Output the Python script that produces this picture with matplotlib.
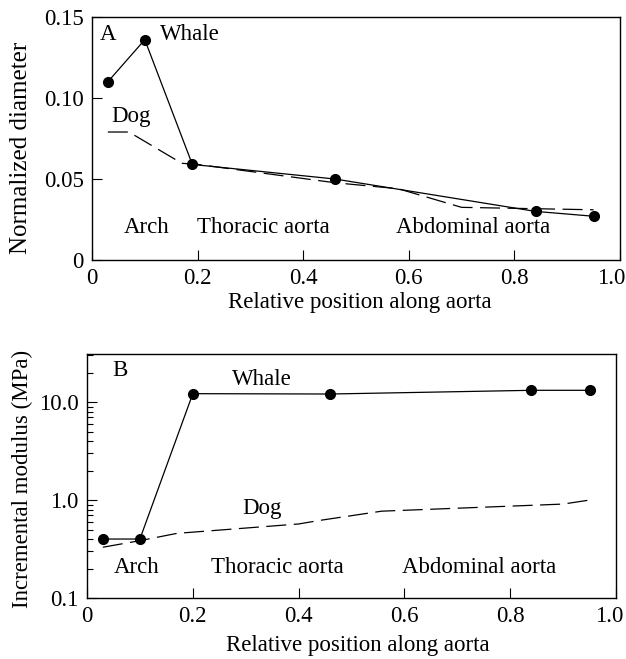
import numpy as np
import matplotlib
matplotlib.use('Agg')
import matplotlib.pyplot as plt
import matplotlib.transforms as mtransforms
from matplotlib.ticker import FixedLocator, LogLocator, NullFormatter

plt.rcParams['font.family'] = ['Liberation Serif', 'DejaVu Serif']
plt.rcParams['font.size'] = 16.5

# Panel A: normalized diameter
whale_x_a = [0.03, 0.10, 0.19, 0.46, 0.84, 0.95]
whale_d = [0.110, 0.136, 0.059, 0.050, 0.030, 0.027]
dog_x_a = [0.03, 0.07, 0.17, 0.20, 0.46, 0.58, 0.70, 0.95]
dog_d = [0.079, 0.079, 0.0597, 0.059, 0.0477, 0.044, 0.0325, 0.031]

# Panel B: incremental modulus (MPa)
whale_x_b = [0.03, 0.10, 0.20, 0.46, 0.84, 0.95]
whale_e = [0.40, 0.40, 12.2, 12.1, 13.2, 13.2]
dog_x_b = [0.03, 0.10, 0.17, 0.40, 0.44, 0.557, 0.90, 0.95]
dog_e = [0.33, 0.385, 0.457, 0.57, 0.62, 0.77, 0.91, 1.0]

region_labels = ['Arch', 'Thoracic aorta', 'Abdominal aorta']
region_x_a = [0.061, 0.198, 0.576]
region_x_b = [0.050, 0.234, 0.595]

xticks = [0, 0.2, 0.4, 0.6, 0.8, 1.0]
xticklabels = ['0', '0.2', '0.4', '0.6', '0.8', '1.0']
yticks_a = [0, 0.05, 0.10, 0.15]
yticklabels_a = ['0', '0.05', '0.10', '0.15']
yticks_b = [0.1, 1.0, 10.0]
yticklabels_b = ['0.1', '1.0', '10.0']

lw = 0.9
dash = (0, (16, 6))
W, H = 626, 659


def style_axis(ax):
    for sp in ax.spines.values():
        sp.set_linewidth(1.0)
    ax.tick_params(which='major', direction='in', length=7.5, width=0.8,
                   top=False, right=False, pad=6)
    ax.tick_params(which='minor', direction='in', length=4, width=0.8,
                   top=False, right=False)


def nudge_last_xlabel(fig, ax, dx_px):
    # the "1.0" label sits a little left of its tick so it fits the figure
    lab = ax.get_xticklabels()[-1]
    off = mtransforms.ScaledTranslation(dx_px / fig.dpi, 0, fig.dpi_scale_trans)
    lab.set_transform(lab.get_transform() + off)


fig = plt.figure(figsize=(W / 100, H / 100), dpi=100)

# ---- Panel A
ax1 = fig.add_axes([92 / W, 1 - 260 / H, 528 / W, 243 / H])
ax1.plot(whale_x_a, whale_d, color='k', lw=lw, marker='o', ms=7)
ax1.plot(dog_x_a, dog_d, color='k', lw=lw, ls=dash)
ax1.set_xlim(0, 1.0)
ax1.set_ylim(0, 0.15)
ax1.set_xticks(xticks)
ax1.set_xticklabels(xticklabels)
ax1.set_yticks(yticks_a)
ax1.set_yticklabels(yticklabels_a)
style_axis(ax1)
nudge_last_xlabel(fig, ax1, -9)
ax1.text(0.015, 0.139, 'A', va='center', ha='left')
ax1.text(0.129, 0.139, 'Whale', va='center', ha='left')
ax1.text(0.037, 0.0885, 'Dog', va='center', ha='left')
for lab, xx in zip(region_labels, region_x_a):
    ax1.text(xx, 0.020, lab, va='center', ha='left')
fig.text(360 / W, 1 - 303 / H, 'Relative position along aorta',
         ha='center', va='center')
fig.text(21 / W, 1 - 148 / H, 'Normalized diameter', rotation=90,
         ha='center', va='center', fontsize=18)

# ---- Panel B
ax2 = fig.add_axes([87 / W, 1 - 598 / H, 529 / W, 244 / H])
ax2.plot(whale_x_b, whale_e, color='k', lw=lw, marker='o', ms=7)
ax2.plot(dog_x_b, dog_e, color='k', lw=lw, ls=dash)
ax2.set_yscale('log')
ax2.set_xlim(0, 1.0)
ax2.set_ylim(0.1, 31)
ax2.set_xticks(xticks)
ax2.set_xticklabels(xticklabels)
ax2.yaxis.set_major_locator(FixedLocator(yticks_b))
ax2.set_yticklabels(yticklabels_b)
ax2.yaxis.set_minor_locator(LogLocator(base=10, subs=np.arange(2, 10)))
ax2.yaxis.set_minor_formatter(NullFormatter())
style_axis(ax2)
nudge_last_xlabel(fig, ax2, -7)
ax2.text(0.047, 21.2, 'B', va='center', ha='left')
ax2.text(0.275, 17.1, 'Whale', va='center', ha='left')
ax2.text(0.294, 0.82, 'Dog', va='center', ha='left')
for lab, xx in zip(region_labels, region_x_b):
    ax2.text(xx, 0.205, lab, va='center', ha='left')
fig.text(358 / W, 1 - 645 / H, 'Relative position along aorta',
         ha='center', va='center')
fig.text(22 / W, 1 - 479 / H, 'Incremental modulus (MPa)', rotation=90,
         ha='center', va='center')

fig.savefig('out.png', dpi=100)
